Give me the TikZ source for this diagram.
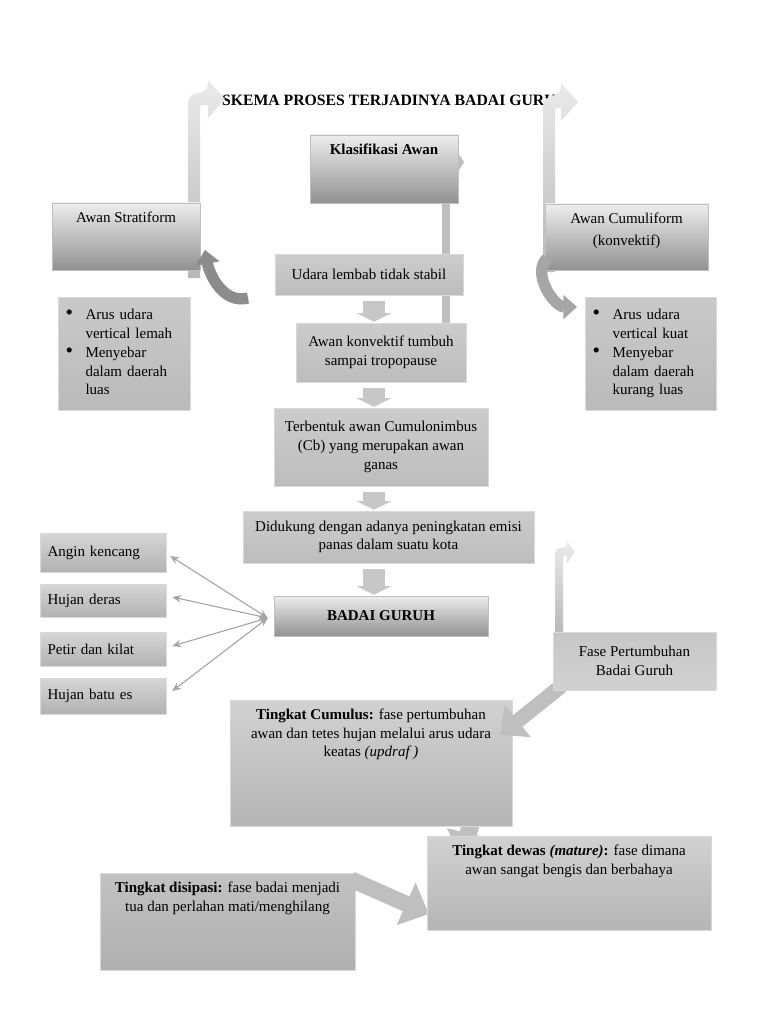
\documentclass[tikz,border=0pt]{standalone}
\usepackage{fontspec}
\setmainfont{Liberation Serif}
\usetikzlibrary{positioning}
\usetikzlibrary{arrows.meta,calc}
\tikzstyle{headbox}=[draw=black!25,top color=black!7,bottom color=black!43]
\tikzstyle{stepbox}=[draw=black!15,top color=black!20,bottom color=black!26,align=center]
\tikzstyle{listbox}=[draw=black!15,top color=black!21,bottom color=black!27,align=left,inner xsep=6pt]
\tikzstyle{itembox}=[draw=black!15,top color=black!16,bottom color=black!30,align=left,inner xsep=6pt,minimum width=100.8pt,text width=88.8pt]
\tikzstyle{phasebox}=[draw=black!15,top color=black!18,bottom color=black!29]
\tikzstyle{tallbox}=[inner sep=0pt]
\tikzstyle{bent}=[top color=black!8,bottom color=black!28]
\tikzstyle{stem}=[fill=black!25]
\tikzstyle{curved}=[line width=9pt,-{Triangle[length=11pt,width=19pt]}]
\tikzstyle{flowarrow}=[draw=black!22,line width=17pt,-{Triangle[length=7pt,width=28pt]}]
\tikzstyle{broadarrow}=[draw=black!25,line width=12pt,-{Triangle[length=18pt,width=32pt]}]
\tikzstyle{fanarrow}=[draw=black!35,line width=0.9pt,{Stealth[length=7pt,width=6pt]}-{Stealth[length=7pt,width=6pt]}]
\newcommand{\topblock}[3]{\vbox to #2{\hsize=#1\parindent=0pt\centering\vskip7pt #3\par\vfil}}
\newcommand{\bul}{{\fontsize{17}{14.4}\selectfont\textbullet}}

\begin{document}
\begin{tikzpicture}[x=0.8pt,y=-0.8pt,every node/.style={font=\fontsize{12}{15}\selectfont}]
\useasboundingbox (0,0) rectangle (768,1024);

    \node[font=\fontsize{12.6}{15}\selectfont] (judul) at (395,100) {\textbf{SKEMA PROSES TERJADINYA BADAI GURUH}};

    % stems behind the boxes
    \path[stem] (442,200) rectangle (450,325);
    \path[stem] (458,153) -- (464,162) -- (458,172) -- cycle;
    \path[bent] (188,278) [rounded corners=8pt] -- (188,93) -- (208,93) [sharp corners] -- (208,80) -- (225,99) -- (208,118) -- (208,105) [rounded corners=2pt] -- (200,105) [sharp corners] -- (200,278) -- cycle;
    \path[bent] (543,272) [rounded corners=8pt] -- (543,96) -- (561,96) [sharp corners] -- (561,83) -- (578,102) -- (561,121) -- (561,108) [rounded corners=2pt] -- (555,108) [sharp corners] -- (555,272) -- cycle;

    \node[headbox,tallbox] (klas) at (384,169) {\topblock{118.4pt}{54.4pt}{\textbf{Klasifikasi Awan}}};
    \node[headbox,tallbox] (strat) at (126,236.5) {\topblock{118.4pt}{53.6pt}{Awan Stratiform}};
    \node[headbox,tallbox] (cumu) at (626.5,237) {\topblock{130.4pt}{52.8pt}{Awan Cumuliform\\[3pt](konvektif)}};

    \draw[curved,black!45] (248,298) to[out=195,in=-80] (205,250);
    \draw[curved,black!35] (547,258) to[out=225,in=180] (577,307);

    \node[listbox,minimum width=105.6pt,minimum height=90.4pt,text width=93.6pt] (stratlist) at (124,353.5)
        {\begin{tabular}{@{}p{16pt}@{}l@{}}\bul & Arus udara\\ & vertical lemah\\ \bul & Menyebar\\ & dalam daerah\\ & luas\end{tabular}};
    \node[listbox,minimum width=104.8pt,minimum height=90.4pt,text width=92.8pt] (cumulist) at (650.5,353.5)
        {\begin{tabular}{@{}p{16pt}@{}l@{}}\bul & Arus udara\\ & vertical kuat\\ \bul & Menyebar\\ & dalam daerah\\ & kurang luas\end{tabular}};

    % main flow
    \node[stepbox,minimum width=150.4pt,minimum height=32.8pt] (udara) at (369,274.5) {Udara lembab tidak stabil};
    \node[stepbox,minimum width=136pt,minimum height=47.2pt] (konv) at (381,352.5) {Awan konvektif tumbuh\\sampai tropopause};
    \node[stepbox,minimum width=171.2pt,minimum height=62.4pt] (terb) at (381,447) {Terbentuk awan Cumulonimbus\\(Cb) yang merupakan awan\\ganas};
    \node[stepbox,minimum width=232.8pt,minimum height=41.6pt] (didu) at (388.5,537) {Didukung dengan adanya peningkatan emisi\\panas dalam suatu kota};
    \node[headbox,minimum width=171.2pt,minimum height=32pt] (badai) at (381,616) {\textbf{BADAI GURUH}};

    \coordinate (ax) at (374,0);
    \foreach \source/\dest in {udara/konv, konv/terb, terb/didu, didu/badai}
        \draw[flowarrow] ($(\source.south -| ax)+(0,6)$) -- ($(\dest.north -| ax)+(0,-1)$);

    % effects
    \foreach \pos/\name/\txt/\h in {{(103,552.5)/angin/Angin kencang/31.2pt}, {(103,600.5)/hujan/Hujan deras/26.4pt},
        {(103,649)/petir/Petir dan kilat/27.2pt}, {(103,696)/batu/Hujan batu es/28.8pt}}
        \node[itembox,minimum height=\h] (\name) at \pos {\txt};

    \foreach \name/\dx/\dy in {angin/4/3.5, hujan/6/-3.5, petir/6/-3, batu/6/-5}
        \draw[fanarrow] ($(badai.west)+(-6,2)$) -- ($(\name.east)+(\dx,\dy)$);

    % growth phases
    \draw[broadarrow,line width=14pt,-{Triangle[length=22pt,width=34pt]}] (475,806) -- (462,860);
    \node[phasebox,tallbox] (cumulus) at (371,763) {\topblock{225.6pt}{100.8pt}{\textbf{Tingkat Cumulus:} fase pertumbuhan\\awan dan tetes hujan melalui arus udara\\keatas \textit{(updraf )}}};
    \path[bent] (555,634) [rounded corners=4pt] -- (555,548) -- (567,548) [sharp corners] -- (567,541) -- (575,552) -- (567,563) -- (567,556) -- (563,556) -- (563,634) -- cycle;
    \draw[broadarrow] ($(cumulus.east)+(49,-77)$) -- ($(cumulus.east)+(-12,-28)$);
    \node[stepbox,top color=black!22,bottom color=black!18,minimum width=130.4pt,minimum height=46.4pt] (fase) at (634.5,661) {Fase Pertumbuhan\\Badai Guruh};

    \node[phasebox,tallbox,top color=black!24,bottom color=black!31] (disipasi) at (227.5,921.5) {\topblock{204pt}{77.6pt}{\textbf{Tingkat disipasi:} fase badai menjadi\\tua dan perlahan mati/menghilang}};
    \draw[broadarrow,line width=13pt,-{Triangle[length=20pt,width=36pt]}] ($(disipasi.east)+(-4,-42)$) -- (429,914);
    \node[phasebox,tallbox] (dewas) at (569,883) {\topblock{227.2pt}{75.2pt}{\textbf{Tingkat dewas \textit{(mature)}:} fase dimana\\awan sangat bengis dan berbahaya}};

\end{tikzpicture}
\end{document}
